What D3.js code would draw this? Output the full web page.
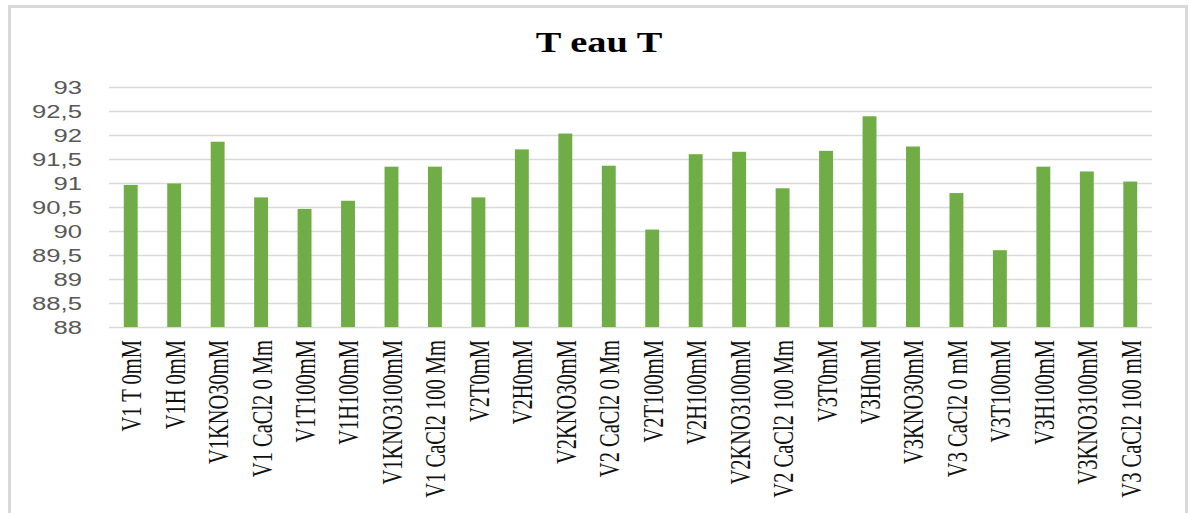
<!DOCTYPE html>
<html>
<head>
<meta charset="utf-8">
<script src="https://cdn.jsdelivr.net/npm/d3@7"></script>
<style>
  html, body { margin: 0; padding: 0; background: #fff; }
  svg { display: block; }
</style>
</head>
<body>
<svg id="chart" width="1190" height="513"></svg>
<script>
// Treatment names along the x axis
const categories = [
  "V1 T 0mM", "V1H 0mM", "V1KNO30mM", "V1 CaCl2 0 Mm", "V1T100mM", "V1H100mM",
  "V1KNO3100mM", "V1 CaCl2 100 Mm", "V2T0mM", "V2H0mM", "V2KNO30mM", "V2 CaCl2 0 Mm",
  "V2T100mM", "V2H100mM", "V2KNO3100mM", "V2 CaCl2 100 Mm", "V3T0mM", "V3H0mM",
  "V3KNO30mM", "V3 CaCl2 0 mM", "V3T100mM", "V3H100mM", "V3KNO3100mM", "V3 CaCl2 100 mM"
];

// T eau T values per treatment
const values = [
  90.96, 90.99, 91.86, 90.70, 90.46, 90.63,
  91.34, 91.34, 90.70, 91.70, 92.03, 91.36,
  90.03, 91.60, 91.65, 90.89, 91.67, 92.39,
  91.76, 90.79, 89.60, 91.34, 91.24, 91.03
];

// Y axis ticks and their labels (comma decimals)
const yTicks = [88, 88.5, 89, 89.5, 90, 90.5, 91, 91.5, 92, 92.5, 93];
const yTickLabels = ["88", "88,5", "89", "89,5", "90", "90,5", "91", "91,5", "92", "92,5", "93"];

const title = "T eau T";

const svg = d3.select("#chart");

// Outer chart frame
svg.append("rect")
  .attr("x", 9.5).attr("y", 6.5)
  .attr("width", 1177).attr("height", 530)
  .attr("fill", "#fff")
  .attr("stroke", "#d9d9d9")
  .attr("stroke-width", 3);

const plot = { left: 109, right: 1152, top: 87, bottom: 327 };

const x = d3.scaleBand()
  .domain(categories)
  .range([plot.left, plot.right])
  .paddingInner(0.68)
  .paddingOuter(0.34);

const y = d3.scaleLinear()
  .domain([88, 93])
  .range([plot.bottom, plot.top]);

// Horizontal gridlines
const yAxis = d3.axisLeft(y)
  .tickValues(yTicks)
  .tickSize(-(plot.right - plot.left))
  .tickFormat("");

const gy = svg.append("g")
  .attr("transform", `translate(${plot.left},0)`)
  .call(yAxis);
gy.select(".domain").remove();
gy.selectAll(".tick line")
  .attr("stroke", "#d9d9d9")
  .attr("stroke-width", 1.5);

// Y tick labels
svg.append("g")
  .selectAll("text")
  .data(yTicks)
  .join("text")
  .attr("transform", d => `translate(82,${y(d)}) scale(1.35,1)`)
  .attr("text-anchor", "end")
  .attr("dy", "0.36em")
  .attr("font-family", "'Liberation Sans', Arial, sans-serif")
  .attr("font-size", 19)
  .attr("fill", "#595959")
  .text((d, i) => yTickLabels[i]);

// Bars
svg.append("g")
  .selectAll("rect")
  .data(values)
  .join("rect")
  .attr("x", (d, i) => x(categories[i]))
  .attr("width", x.bandwidth())
  .attr("y", d => y(d))
  .attr("height", d => y(88) - y(d))
  .attr("fill", "#70ad47");

// Category labels, rotated
svg.append("g")
  .selectAll("text")
  .data(categories)
  .join("text")
  .attr("transform", d => `translate(${x(d) + x.bandwidth() / 2 + 1},340) scale(1.4,1) rotate(-90)`)
  .attr("text-anchor", "end")
  .attr("dy", "0.33em")
  .attr("font-family", "'Liberation Serif', 'Times New Roman', serif")
  .attr("font-size", 20.5)
  .attr("fill", "#111")
  .text(d => d);

// Title
svg.append("text")
  .attr("transform", "translate(599,52) scale(1.28,1)")
  .attr("text-anchor", "middle")
  .attr("font-family", "'Liberation Serif', 'Times New Roman', serif")
  .attr("font-weight", "bold")
  .attr("font-size", 30)
  .attr("fill", "#000")
  .text(title);
</script>
</body>
</html>
